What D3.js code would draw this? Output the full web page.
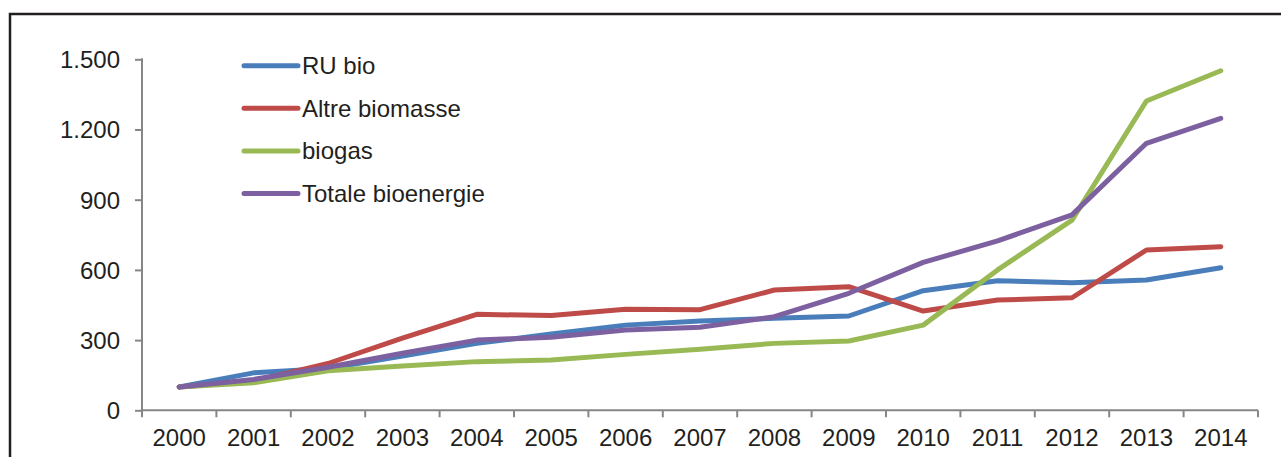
<!DOCTYPE html>
<meta charset="utf-8">
<html lang="it">
<head>
<title>Bioenergie 2000-2014</title>
<script src="https://d3js.org/d3.v7.min.js"></script>
<style>
  body { margin: 0; background: #fff; }
  svg text { font-family: "Liberation Sans", Arial, sans-serif; fill: #231f20; }
</style>
</head>
<body>
<svg id="chart" width="1281" height="457"></svg>
<script>

// anni e valori
var years = ["2000","2001","2002","2003","2004","2005","2006","2007","2008","2009","2010","2011","2012","2013","2014"]

var ruBio     = [100, 160, 179, 232, 286, 326, 364, 382, 393, 403, 511, 554, 545, 557, 609]
var altre     = [100, 125, 200, 308, 410, 405, 432, 430, 514, 528, 424, 471, 481, 685, 699]
var biogas    = [100, 118, 169, 189, 208, 215, 239, 261, 286, 296, 364, 600, 813, 1322, 1451]
var totale    = [100, 132, 184, 244, 300, 312, 343, 355, 400, 500, 632, 724, 835, 1141, 1248]

var yTicks = [0, 300, 600, 900, 1200, 1500]

var series = [
  { name: "RU bio",            values: ruBio,  color: "#4a7ebb" },
  { name: "Altre biomasse",    values: altre,  color: "#be4b48" },
  { name: "biogas",            values: biogas, color: "#98b954" },
  { name: "Totale bioenergie", values: totale, color: "#7d60a0" }
]

var svg = d3.select("#chart")

// cornice esterna
svg.append("rect")
  .attr("x", 10).attr("y", 14)
  .attr("width", 1290).attr("height", 460)
  .attr("fill", "none")
  .attr("stroke", "#231f20")
  .attr("stroke-width", 2.5)

var plotLeft = 142, plotRight = 1258, plotTop = 59.3, plotBottom = 410.3

var x = d3.scaleBand().domain(years).range([plotLeft, plotRight])
var y = d3.scaleLinear().domain([0, 1500]).range([plotBottom, plotTop])

var fmt = function (d) { return d3.format(",")(d).replace(/,/g, ".") }

// asse y
var yAxis = svg.append("g")
  .attr("transform", "translate(" + plotLeft + ",0)")
  .call(d3.axisLeft(y).tickValues(yTicks).tickSize(7).tickPadding(15).tickFormat(fmt))
yAxis.selectAll("path, line").attr("stroke", "#868686").attr("stroke-width", 2)
yAxis.select(".domain").attr("d", "M0," + plotBottom + "V" + (plotTop - 1))
yAxis.selectAll("text").attr("font-size", 24).attr("dy", "0.35em")
  .style("font-family", "'Liberation Sans', Arial, sans-serif").attr("fill", "#231f20")

// asse x: tacche ai bordi delle categorie
var xAxis = svg.append("g").attr("transform", "translate(0," + plotBottom + ")")
xAxis.append("line")
  .attr("x1", plotLeft).attr("x2", plotRight)
  .attr("stroke", "#868686").attr("stroke-width", 2)
var edges = years.map(function (d) { return x(d) }).concat([plotRight])
xAxis.selectAll("line.tick").data(edges).enter().append("line")
  .attr("class", "tick")
  .attr("x1", function (d) { return d }).attr("x2", function (d) { return d })
  .attr("y1", 0).attr("y2", 7)
  .attr("stroke", "#868686").attr("stroke-width", 2)
xAxis.selectAll("text").data(years).enter().append("text")
  .attr("x", function (d) { return x(d) + x.bandwidth() / 2 })
  .attr("y", 36)
  .attr("text-anchor", "middle")
  .attr("font-size", 24)
  .text(function (d) { return d })

// linee
var line = d3.line()
  .x(function (d, i) { return x(years[i]) + x.bandwidth() / 2 })
  .y(function (d) { return y(d) })

svg.append("g").selectAll("path").data(series).enter().append("path")
  .attr("d", function (s) { return line(s.values) })
  .attr("fill", "none")
  .attr("stroke", function (s) { return s.color })
  .attr("stroke-width", 5)
  .attr("stroke-linejoin", "round")
  .attr("stroke-linecap", "round")

// legenda
var legend = svg.append("g").selectAll("g").data(series).enter().append("g")
  .attr("transform", function (s, i) { return "translate(244," + (65.7 + i * 42.6) + ")" })
legend.append("line")
  .attr("x1", 0).attr("x2", 54)
  .attr("stroke", function (s) { return s.color })
  .attr("stroke-width", 5)
  .attr("stroke-linecap", "round")
legend.append("text")
  .attr("x", 58).attr("dy", "0.35em")
  .attr("font-size", 24)
  .text(function (s) { return s.name })

</script>
</body>
</html>
